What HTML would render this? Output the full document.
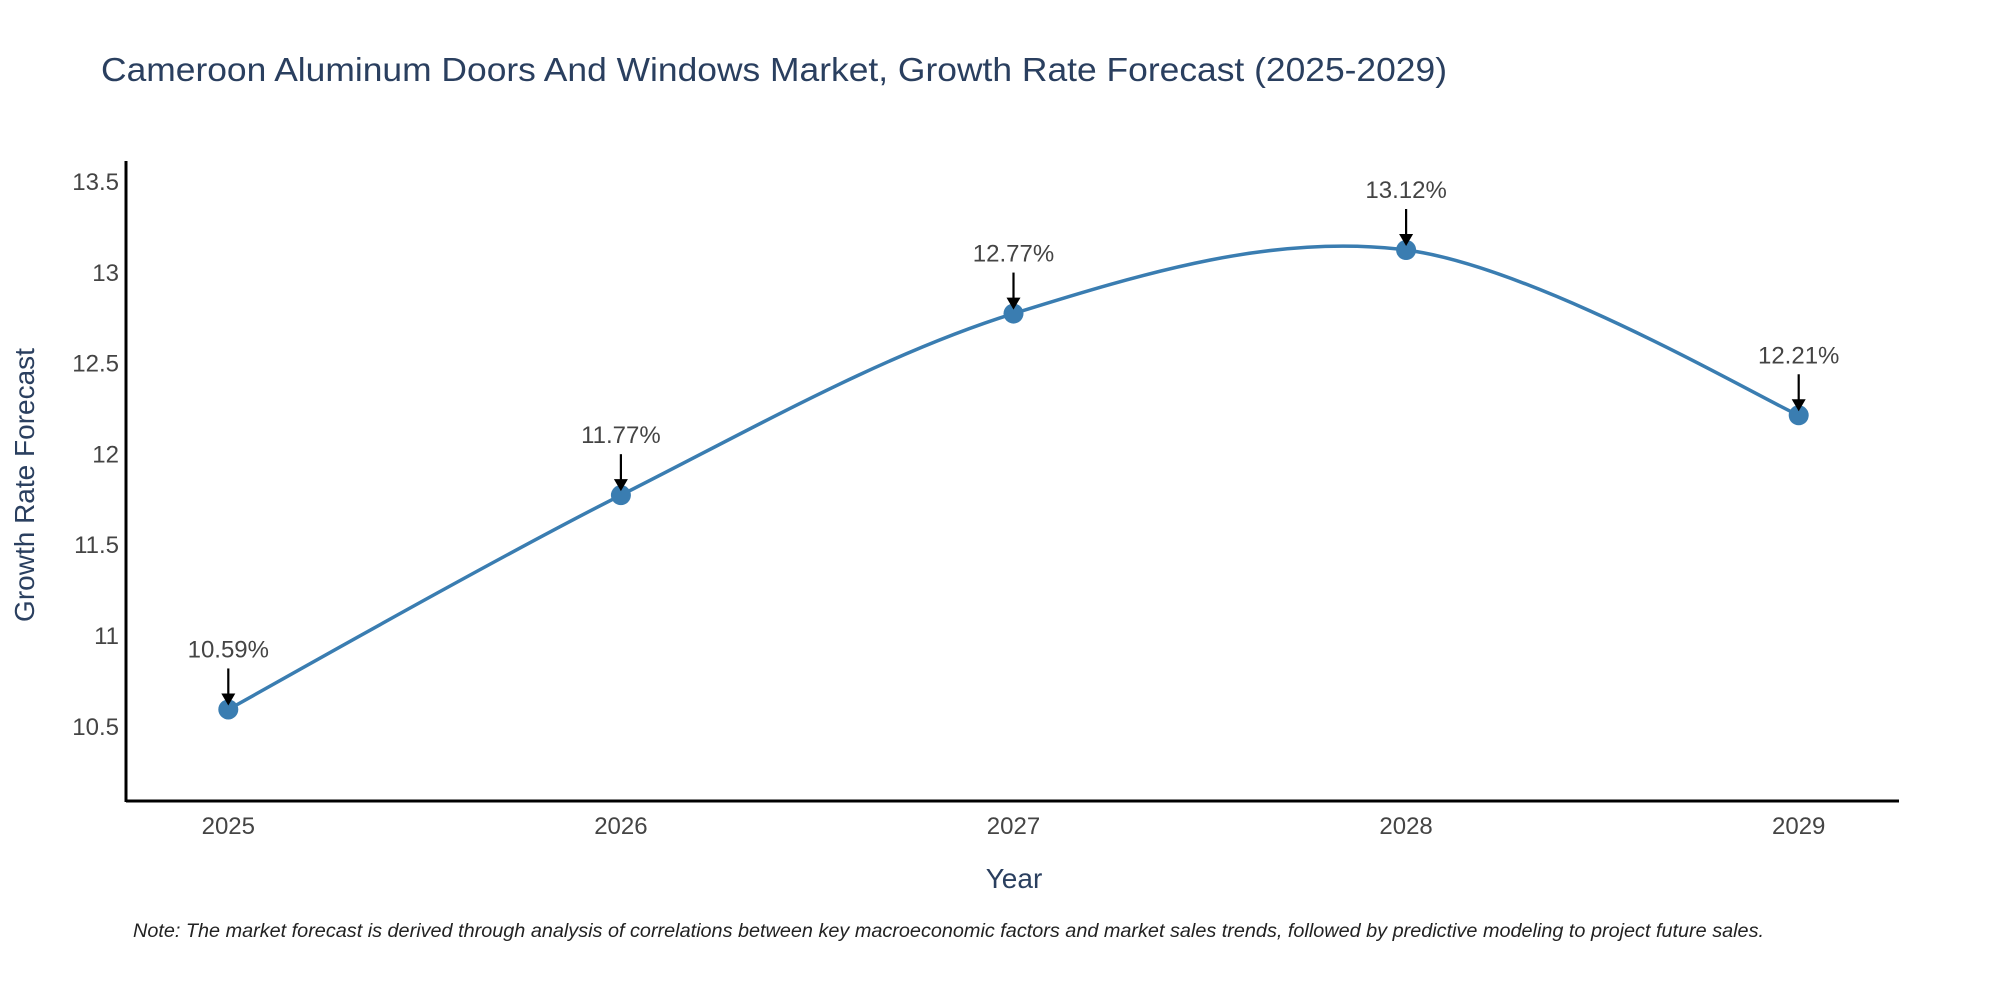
<!DOCTYPE html>
<html><head><meta charset="utf-8"><style>
body{margin:0;background:#fff;}
svg{display:block;font-family:"Liberation Sans","DejaVu Sans",sans-serif;}
</style></head><body>
<svg id="chart" width="2000" height="1000" viewBox="0 0 2000 1000">
<text x="101" y="81" font-size="33" fill="#2a3f5f" textLength="1346" lengthAdjust="spacingAndGlyphs">Cameroon Aluminum Doors And Windows Market, Growth Rate Forecast (2025-2029)</text>
<g id="yticks"></g>
<g id="xticks"></g>
<line x1="126" y1="801" x2="1899" y2="801" stroke="#000" stroke-width="3"/>
<line x1="126" y1="161" x2="126" y2="802" stroke="#000" stroke-width="3"/>
<path id="line" fill="none" stroke="#3a7db1" stroke-width="3.5"/>
<g id="points"></g>
<g id="annos"></g>
<text transform="translate(34,485) rotate(-90)" text-anchor="middle" font-size="28" fill="#2a3f5f">Growth Rate Forecast</text>
<text x="1014" y="888" text-anchor="middle" font-size="28" fill="#2a3f5f">Year</text>
<text x="133" y="937" font-size="19" font-style="italic" fill="#222" textLength="1631" lengthAdjust="spacingAndGlyphs">Note: The market forecast is derived through analysis of correlations between key macroeconomic factors and market sales trends, followed by predictive modeling to project future sales.</text>
</svg>
<script>
const years = [2025, 2026, 2027, 2028, 2029];
const values = [10.59, 11.77, 12.77, 13.12, 12.21];
const labels = ["10.59%", "11.77%", "12.77%", "13.12%", "12.21%"];
const yTicks = [10.5, 11, 11.5, 12, 12.5, 13, 13.5];
const yTickLabels = ["10.5", "11", "11.5", "12", "12.5", "13", "13.5"];
const NS = "http://www.w3.org/2000/svg";
function xs(i){ return 228.3 + (i - 2025) * 392.6; }
function ys(v){ return 725.8 - (v - 10.5) * 181.6; }
function mk(tag, attrs, parent){ const e=document.createElementNS(NS,tag); for(const k in attrs) e.setAttribute(k,attrs[k]); parent.appendChild(e); return e; }
const yt=document.getElementById('yticks');
yTicks.forEach((t,i)=>{ const e=mk('text',{x:119,y:ys(t)+9,'text-anchor':'end','font-size':24,fill:'#444'},yt); e.textContent=yTickLabels[i];

 });
const xt=document.getElementById('xticks');
years.forEach(y=>{ const e=mk('text',{x:xs(y),y:834,'text-anchor':'middle','font-size':24,fill:'#444'},xt); e.textContent=String(y);

 });
const P=years.map((y,i)=>[xs(y),ys(values[i])]);
let d='M'+P[0][0]+','+P[0][1];
const t=0.5;
for(let i=0;i<P.length-1;i++){
  const p0=P[Math.max(0,i-1)],p1=P[i],p2=P[i+1],p3=P[Math.min(P.length-1,i+2)];
  const c1=[p1[0]+(p2[0]-p0[0])*t/3*(i===0?0.5:1), p1[1]+(p2[1]-p0[1])*t/3*(i===0?0.5:1)];
  const c2=[p2[0]-(p3[0]-p1[0])*t/3*(i===P.length-2?0.5:1), p2[1]-(p3[1]-p1[1])*t/3*(i===P.length-2?0.5:1)];
  d+=' C'+c1[0]+','+c1[1]+' '+c2[0]+','+c2[1]+' '+p2[0]+','+p2[1];
}
document.getElementById('line').setAttribute('d',d);
const pg=document.getElementById('points'), ag=document.getElementById('annos');
P.forEach((p,i)=>{
  const c=mk('circle',{cx:p[0],cy:p[1],r:10,fill:'#3a7db1'},pg);
  
  
  const l=mk('line',{x1:p[0],y1:p[1]-41,x2:p[0],y2:p[1]-14,stroke:'#000','stroke-width':2.2},ag);
  
  
  const h=mk('path',{d:`M${p[0]-7},${p[1]-16} L${p[0]+7},${p[1]-16} L${p[0]},${p[1]-4} Z`,fill:'#000'},ag);
  
  
  const tx=mk('text',{x:p[0],y:p[1]-52,'text-anchor':'middle','font-size':24,fill:'#444'},ag);
  tx.textContent=labels[i];
  
  
});
</script>
</body></html>
